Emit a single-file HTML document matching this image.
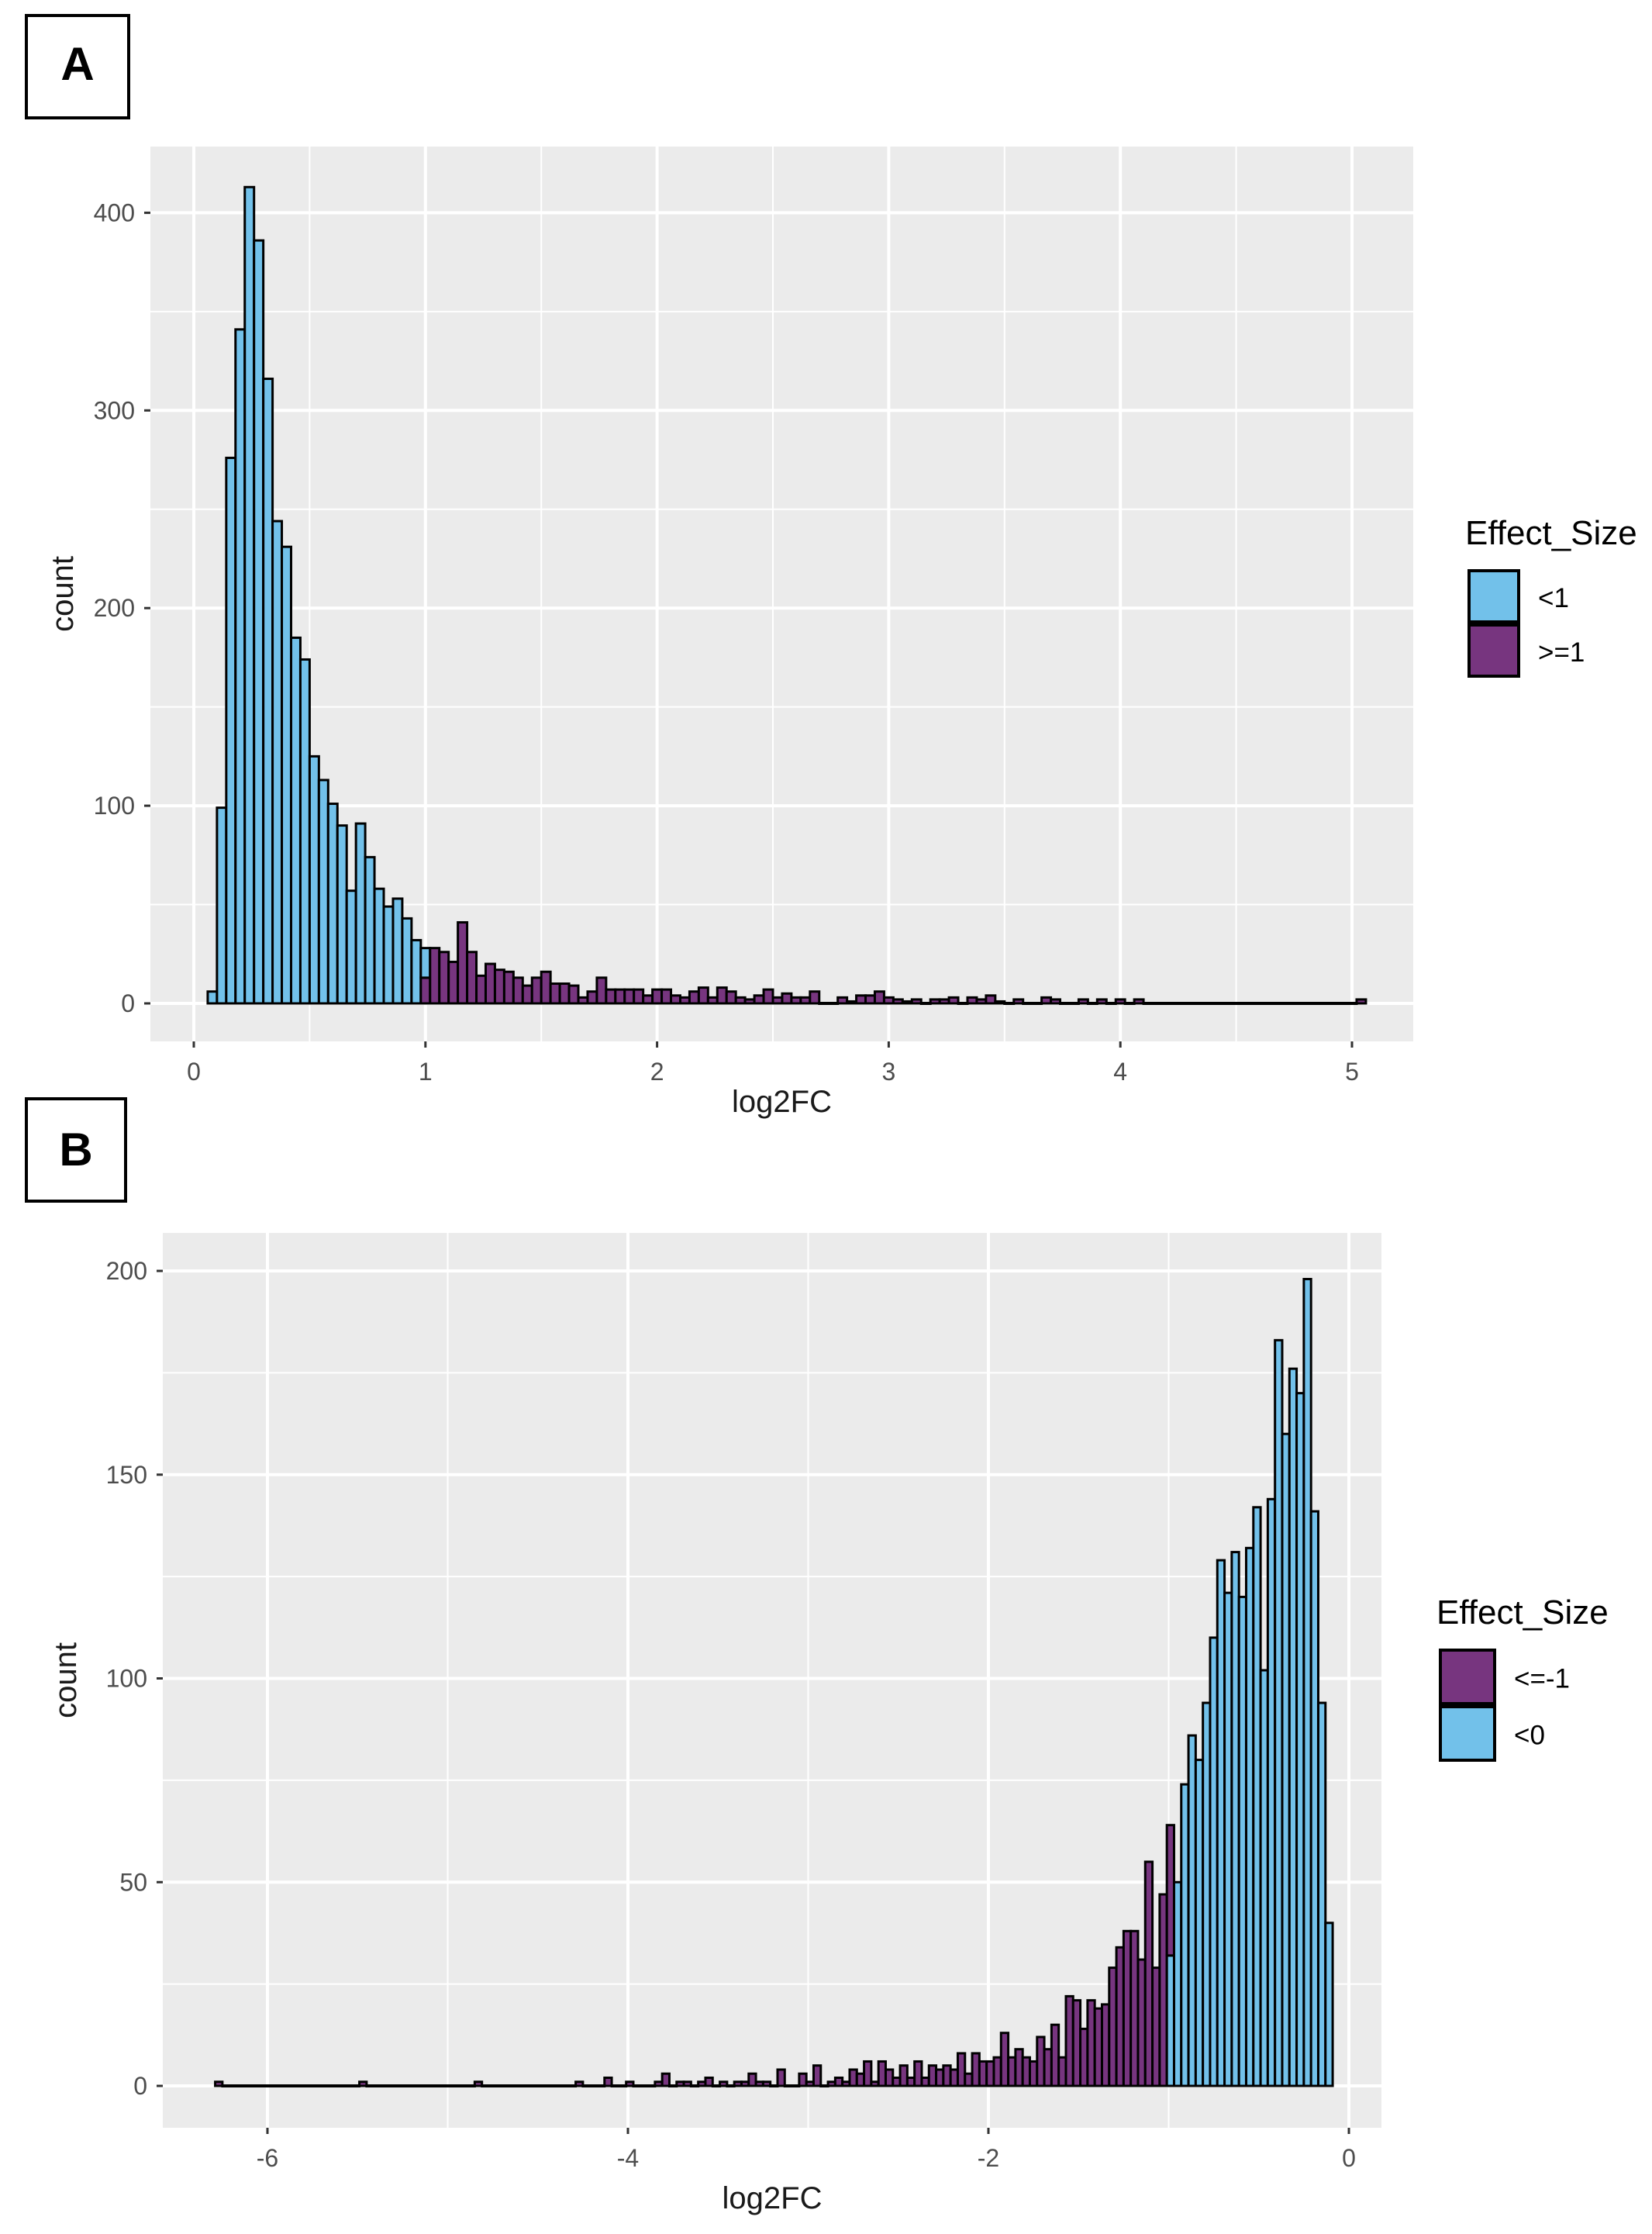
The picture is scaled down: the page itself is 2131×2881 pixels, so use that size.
<!DOCTYPE html>
<html><head><meta charset="utf-8">
<style>
html,body{margin:0;padding:0;background:#fff;}
svg{display:block;font-family:"Liberation Sans",Arial,sans-serif;}
</style></head>
<body>
<svg id="fig" width="2131" height="2881" viewBox="0 0 2131 2881" xmlns="http://www.w3.org/2000/svg">
  <rect x="0" y="0" width="2131" height="2881" fill="#fff"/>
  <g>
    <rect x="34" y="20" width="132" height="132" fill="#fff" stroke="#000" stroke-width="4"/>
    <text x="100" y="103" text-anchor="middle" font-size="60" font-weight="bold" fill="#000">A</text>
  </g>
  <g>
    <rect x="34" y="1417" width="128" height="132" fill="#fff" stroke="#000" stroke-width="4"/>
    <text x="98" y="1503" text-anchor="middle" font-size="60" font-weight="bold" fill="#000">B</text>
  </g>
  <g id="chartA"></g>
  <g id="chartB"></g>
</svg>
<script>
// ---------- Panel A data ----------
const aBinStart = 0.06;
const aBinWidth = 0.04;
const aBlueCounts = [6,99,276,341,413,386,316,244,231,185,174,125,113,101,90,57,91,74,58,49,53,43,32,15,
0,0,0,0,0,0,0,0,0,0,0,0,0,0,0,0,0,0,0,0,0,0,0,0,0,0,0,
0,0,0,0,0,0,0,0,0,0,0,0,0,0,0,0,0,0,0,0,0,0,0,0,0,0,0,0,0,0,0,0,0,0,0,0,0,0,0,0,0,0,0,0,0,0,0,0,0,0,
0,0,0,0,0,0,0,0,0,0,0,0,0,0,0,0,0,0,0,0,0,0,0,0];
const aPurpleCounts = [0,0,0,0,0,0,0,0,0,0,0,0,0,0,0,0,0,0,0,0,0,0,0,13,
28,26,21,41,26,14,20,17,16,13,9,13,16,10,10,9,3,6,13,7,7,7,7,4,7,7,4,
3,6,8,3,8,6,3,2,4,7,3,5,3,3,6,0,0,3,1,4,4,6,3,2,1,2,0,2,2,3,0,3,2,4,1,0,2,0,0,3,2,0,0,2,0,2,0,2,0,2,
0,0,0,0,0,0,0,0,0,0,0,0,0,0,0,0,0,0,0,0,0,0,0,2];
const aXTicks = [0,1,2,3,4,5];
const aXMinor = [0.5,1.5,2.5,3.5,4.5];
const aYTicks = [0,100,200,300,400];
const aYMinor = [50,150,250,350];

// ---------- Panel B data ----------
const bBinStart = -6.29;
const bBinWidth = 0.04;
const bPurpleCounts = [1,0,0,0,0,0,0,0,0,0, 0,0,0,0,0,0,0,0,0,0, 1,0,0,0,0,0,0,0,0,0,
0,0,0,0,0,0,1,0,0,0, 0,0,0,0,0,0,0,0,0,0, 1,0,0,0,2,0,0,1,0,0, 0,1,3,0,1,1,0,1,2,0,
1,0,1,1,3,1,1,0,4,0, 0,3,1,5,0,1,2,1,4,3, 6,1,6,4,
2,5,2,6,2,5,4,5,4,8,3,8,6,6,7,13,7,9,7,6,12,9,15,7,22,21,14,21,19,20,29,34,38,38,31,55,29,47,
32, 0,0,0,0,0,0,0,0,0,0,0,0,0,0,0,0,0,0,0,0,0,0];
const bBlueCounts = [0,0,0,0,0,0,0,0,0,0, 0,0,0,0,0,0,0,0,0,0, 0,0,0,0,0,0,0,0,0,0,
0,0,0,0,0,0,0,0,0,0, 0,0,0,0,0,0,0,0,0,0, 0,0,0,0,0,0,0,0,0,0, 0,0,0,0,0,0,0,0,0,0,
0,0,0,0,0,0,0,0,0,0, 0,0,0,0,0,0,0,0,0,0, 0,0,0,0,
0,0,0,0,0,0,0,0,0,0,0,0,0,0,0,0,0,0,0,0,0,0,0,0,0,0,0,0,0,0,0,0,0,0,0,0,0,0,
32, 50,74,86,80,94,110,129,121,131,120,132,142,102,144,183,160,176,170,198,141,94,40];
const bXTicks = [-6,-4,-2,0];
const bXMinor = [-5,-3,-1];
const bYTicks = [0,50,100,150,200];
const bYMinor = [25,75,125,175];

const NS = "http://www.w3.org/2000/svg";
const BLUE = "#72c1ea", PURPLE = "#77357f";
function mk(tag, attrs, parent){
  const e = document.createElementNS(NS, tag);
  for (const k in attrs) e.setAttribute(k, attrs[k]);
  parent.appendChild(e);
  return e;
}

function drawChart(g, cfg){
  const {x, y, left, top, right, bottom} = cfg;
  const bg = mk("rect", {x:left, y:top, width:right-left, height:bottom-top, fill:"#ebebeb"}, g);
  
  
  cfg.yMinor.forEach(v => { const l = mk("line",{x1:left,x2:right,y1:y(v),y2:y(v),stroke:"#fff","stroke-width":2},g);
    
     });
  cfg.xMinor.forEach(v => { const l = mk("line",{x1:x(v),x2:x(v),y1:top,y2:bottom,stroke:"#fff","stroke-width":2},g);
    
     });
  cfg.yTicks.forEach(v => { const l = mk("line",{x1:left,x2:right,y1:y(v),y2:y(v),stroke:"#fff","stroke-width":4},g);
    
     });
  cfg.xTicks.forEach(v => { const l = mk("line",{x1:x(v),x2:x(v),y1:top,y2:bottom,stroke:"#fff","stroke-width":4},g);
    
     });

  const n = cfg.bottomCounts.length;
  for (let i = 0; i < n; i++){
    const x0 = x(cfg.binStart + i*cfg.binWidth), x1 = x(cfg.binStart + (i+1)*cfg.binWidth);
    const b = cfg.bottomCounts[i], t = cfg.topCounts[i];
    if (b + t === 0){
      const z = mk("line",{x1:x0-1.5, x2:x1+1.5, y1:y(0), y2:y(0), stroke:"#000", "stroke-width":4},g);
      
      
      continue;
    }
    if (b > 0){
      const rb = mk("rect",{x:x0, y:y(b), width:x1-x0, height:y(0)-y(b), fill:cfg.bottomColor, stroke:"#000","stroke-width":3},g);
      
      
    }
    if (t > 0){
      const rt = mk("rect",{x:x0, y:y(b+t), width:x1-x0, height:y(b)-y(b+t), fill:cfg.topColor, stroke:"#000","stroke-width":3},g);
      
      
    }
  }

  cfg.yTicks.forEach(v => {
    const tk = mk("line",{x1:left-8,x2:left,y1:y(v),y2:y(v),stroke:"#333","stroke-width":3},g);
    
    
    const t = mk("text",{x:left-20,y:y(v)+11,"text-anchor":"end","font-size":32,fill:"#4d4d4d"},g);
    t.textContent = String(v);
    
    
  });
  cfg.xTicks.forEach(v => {
    const tk = mk("line",{x1:x(v),x2:x(v),y1:bottom,y2:bottom+8,stroke:"#333","stroke-width":3},g);
    
    
    const t = mk("text",{x:x(v),y:bottom+50,"text-anchor":"middle","font-size":32,fill:"#4d4d4d"},g);
    t.textContent = String(v);
    
    
  });
  const xt = mk("text",{x:(left+right)/2,y:cfg.xTitleY,"text-anchor":"middle","font-size":40,fill:"#1a1a1a"},g);
  xt.textContent = "log2FC";
  
  
  const yt = mk("text",{x:0,y:0,"text-anchor":"middle","font-size":40,fill:"#1a1a1a",transform:`translate(${cfg.yTitleX},${(top+bottom)/2}) rotate(-90)`},g);
  yt.textContent = "count";
  
  

  const lg = mk("g",{},g);
  
  
  const lt = mk("text",{x:cfg.legX,y:cfg.legY,"font-size":44,fill:"#000"},lg);
  lt.textContent = "Effect_Size";
  
  
  cfg.legend.forEach((it, k) => {
    const ky = cfg.legY + 34 + k*cfg.legStep;
    const r = mk("rect",{x:cfg.legX+5,y:ky,width:cfg.keyW,height:cfg.legStep-4,fill:it.color,stroke:"#000","stroke-width":4},lg);
    
    
    const tx = mk("text",{x:cfg.legX+cfg.keyW+30,y:ky+cfg.legStep/2+12,"font-size":35,fill:"#000"},lg);
    tx.textContent = it.label;
    
    
  });
}

drawChart(document.getElementById("chartA"), {
  x: v => 250 + v*298.8, y: c => 1294 - c*2.549,
  left:194, top:189, right:1823, bottom:1343,
  xTicks:aXTicks, xMinor:aXMinor, yTicks:aYTicks, yMinor:aYMinor,
  binStart:aBinStart, binWidth:aBinWidth,
  bottomCounts:aPurpleCounts, topCounts:aBlueCounts,
  bottomColor:PURPLE, topColor:BLUE, bottomName:"ge1", topName:"lt1",
  xTitleY:1434, yTitleX:94,
  legX:1890, legY:702, legStep:70, keyW:64,
  legend:[{label:"<1",color:BLUE},{label:">=1",color:PURPLE}]
});
drawChart(document.getElementById("chartB"), {
  x: v => 1740 + v*232.5, y: c => 2690 - c*5.255,
  left:210, top:1590, right:1782, bottom:2744,
  xTicks:bXTicks, xMinor:bXMinor, yTicks:bYTicks, yMinor:bYMinor,
  binStart:bBinStart, binWidth:bBinWidth,
  bottomCounts:bBlueCounts, topCounts:bPurpleCounts,
  bottomColor:BLUE, topColor:PURPLE, bottomName:"lt0", topName:"le-1",
  xTitleY:2848, yTitleX:98,
  legX:1853, legY:2094, legStep:73, keyW:70,
  legend:[{label:"<=-1",color:PURPLE},{label:"<0",color:BLUE}]
});
</script>
</body></html>
